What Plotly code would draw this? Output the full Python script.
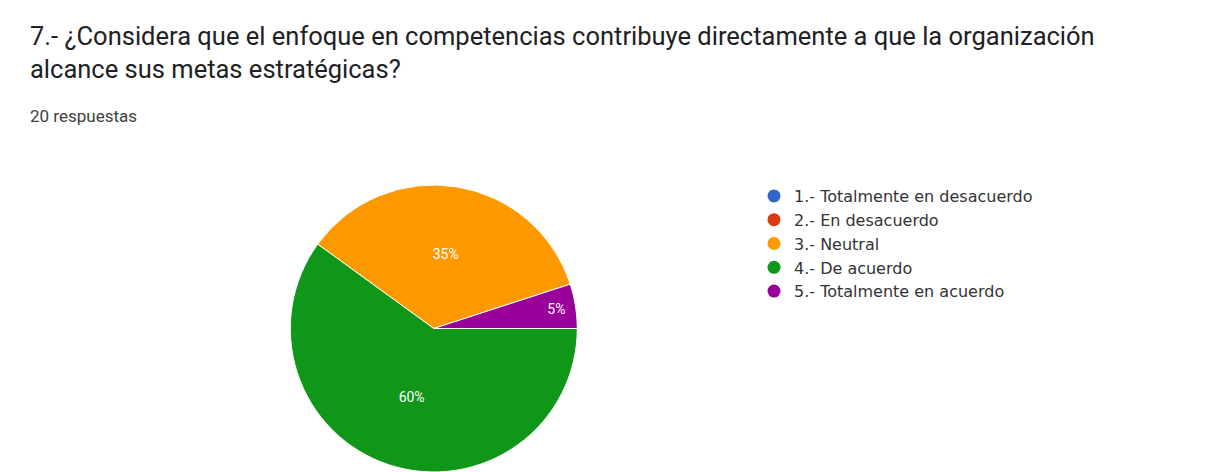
import plotly.graph_objects as go

# Survey answers (20 respondents)
categorias = [
    "1.- Totalmente en desacuerdo",
    "2.- En desacuerdo",
    "3.- Neutral",
    "4.- De acuerdo",
    "5.- Totalmente en acuerdo",
]
respuestas = [0, 0, 7, 12, 1]
colores = ["#3366cc", "#dc3912", "#ff9900", "#109618", "#990099"]

pregunta = ("7.- ¿Considera que el enfoque en competencias contribuye directamente a que la organización"
            "<br>alcance sus metas estratégicas?")
total_txt = f"{sum(respuestas)} respuestas"

W, H = 1205, 472
FONT = "Roboto, Arial, sans-serif"
LEG_FONT = "DejaVu Sans, Arial, sans-serif"

fig = go.Figure()

fig.add_trace(go.Pie(
    labels=categorias,
    values=respuestas,
    sort=False,
    direction="counterclockwise",
    rotation=72,
    marker=dict(colors=colores, line=dict(color="white", width=1)),
    texttemplate="%{percent:.0%}",
    textposition="inside",
    insidetextorientation="horizontal",
    textfont=dict(color="white", size=14, family=FONT),
    showlegend=False,
    hoverinfo="label+percent",
    domain=dict(x=[0.2, 0.52], y=[0.0, 1 - 185 / H]),
))

# Legend entries drawn as round markers
for nombre, color in zip(categorias, colores):
    fig.add_trace(go.Scatter(
        x=[None], y=[None], mode="markers", name=nombre,
        marker=dict(color=color, size=13, symbol="circle"),
        showlegend=True,
    ))

fig.update_layout(
    width=W, height=H,
    margin=dict(l=0, r=0, t=0, b=0),
    paper_bgcolor="white",
    plot_bgcolor="white",
    font=dict(family=FONT, color="#202124"),
    xaxis=dict(visible=False),
    yaxis=dict(visible=False),
    legend=dict(
        x=754 / W, xanchor="left",
        y=1 - 179 / H, yanchor="top",
        font=dict(size=16, family=LEG_FONT, color="#333333"),
        bgcolor="rgba(0,0,0,0)",
        itemclick=False, itemdoubleclick=False,
    ),
    annotations=[
        dict(
            text=pregunta, x=28 / W, y=1 - 19 / H, xref="paper", yref="paper",
            xanchor="left", yanchor="top", align="left", showarrow=False,
            font=dict(size=25.5, family=FONT, color="#202124"),
        ),
        dict(
            text=total_txt, x=28 / W, y=1 - 116 / H, xref="paper", yref="paper",
            xanchor="left", yanchor="middle", showarrow=False,
            font=dict(size=17, family=FONT, color="#3c4043"),
        ),
    ],
)

fig.write_html("out.html")
